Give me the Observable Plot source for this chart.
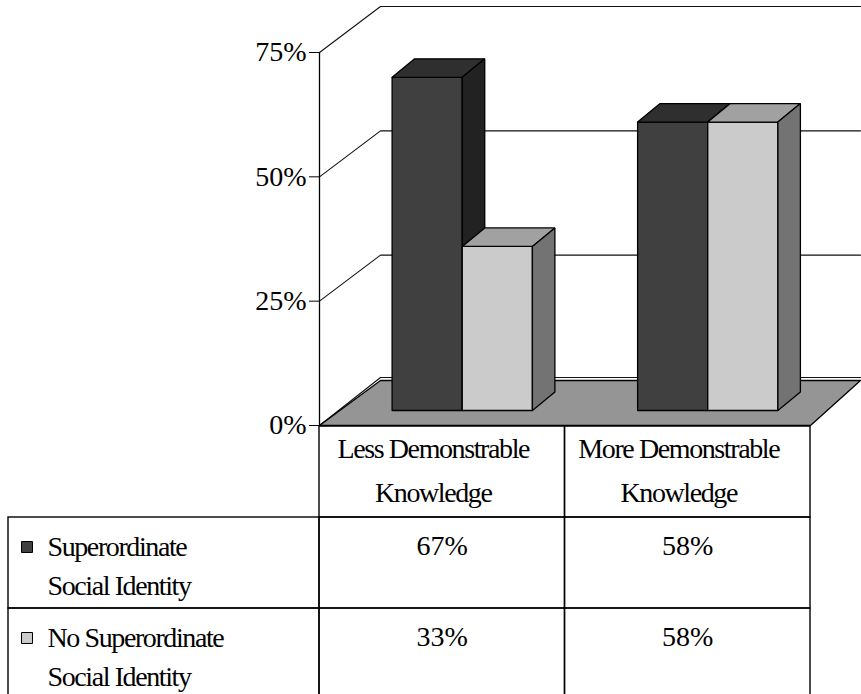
<!DOCTYPE html>
<html>
<head>
<meta charset="utf-8">
<script src="https://cdn.jsdelivr.net/npm/d3@7"></script>
<script src="https://cdn.jsdelivr.net/npm/@observablehq/plot@0.6"></script>
<style>
  html, body { margin: 0; padding: 0; background: #ffffff; }
  #wrap { position: relative; width: 861px; height: 694px; overflow: hidden; }
  #wrap svg { display: block; }
  #wrap svg, #wrap svg text { font-family: "Liberation Serif", "Times New Roman", "DejaVu Serif", serif !important; }
</style>
</head>
<body>
<div id="wrap"></div>
<script>
// ---------------- data ----------------
const categories = ["Less Demonstrable Knowledge", "More Demonstrable Knowledge"];
const categoryLines = [["Less Demonstrable", "Knowledge"], ["More Demonstrable", "Knowledge"]];
const seriesNames = ["Superordinate Social Identity", "No Superordinate Social Identity"];
const seriesLines = [["Superordinate", "Social Identity"], ["No Superordinate", "Social Identity"]];
const superordinate = [0.67, 0.58];
const noSuperordinate = [0.33, 0.58];
const yTicks = [0, 0.25, 0.5, 0.75];
const tableValues = ["67%", "58%", "33%", "58%"]; // row-major, as printed in the data table

// ---------------- styles / layout ----------------
const FONT = "'Liberation Serif', 'Times New Roman', 'DejaVu Serif', serif";
const faceColors = [
  {front: "#404040", top: "#2f2f2f", side: "#222222"},
  {front: "#cbcbcb", top: "#a1a1a1", side: "#737373"}
];
const floorColor = "#959595";
const W = 861;
const ML = 319, MR = 51, MT = 52, CH = 426, MB = 1;
const XDOM = [0, categories.length];
const YDOM = [0, 0.75];
const pxX = (W - MR - ML) / (XDOM[1] - XDOM[0]);
const pxY = (CH - MB - MT) / (YDOM[1] - YDOM[0]);
// depth of the floor / walls in pixels (slight perspective: shorter at the right)
const wallDX = xu => 61 - 5.5 * xu;
const WALL_DY = 46, FLOOR_DY = 45, WALL_BASE_DY = 48;
const BAR_PLANE = {dx: 20, dy: 15};
const BAR_DEPTH = {dx: 22.5, dy: 18.5};
const GAP = 1.5; // gap width 150%
const BAR_W = 1 / (2 + GAP);

const off = (xu, v, dxPx, dyPx) => ({x: xu + dxPx / pxX, y: v + dyPx / pxY});

// walls: gridlines on left wall + back wall
const gridPts = [];
yTicks.forEach(t => {
  const dy = t === 0 ? WALL_BASE_DY : WALL_DY;
  gridPts.push({...off(XDOM[0], t, 0, 0), t});
  gridPts.push({...off(XDOM[0], t, wallDX(XDOM[0]), dy), t});
  gridPts.push({...off(XDOM[1], t, wallDX(XDOM[1]), dy), t});
});

// floor
const floorPts = [
  off(XDOM[0], 0, 0, 0),
  off(XDOM[1], 0, 0, 0),
  off(XDOM[1], 0, wallDX(XDOM[1]), FLOOR_DY),
  off(XDOM[0], 0, wallDX(XDOM[0]), FLOOR_DY),
  off(XDOM[0], 0, 0, 0)
];

// bars -> faces
const seriesValues = [superordinate, noSuperordinate];
const faces = {front: [[], []], top: [[], []], side: [[], []]};
categories.forEach((c, i) => {
  seriesValues.forEach((vals, s) => {
    const v = vals[i];
    const x1 = i + (GAP / 2) * BAR_W + s * BAR_W, x2 = x1 + BAR_W;
    const P = (xu, vv, k) => off(xu, vv, BAR_PLANE.dx + k * BAR_DEPTH.dx, BAR_PLANE.dy + k * BAR_DEPTH.dy);
    const id = c + "|" + seriesNames[s];
    const add = (name, pts) => pts.forEach(p => faces[name][s].push({...p, id}));
    add("front", [P(x1, 0, 0), P(x2, 0, 0), P(x2, v, 0), P(x1, v, 0), P(x1, 0, 0)]);
    add("top", [P(x1, v, 0), P(x2, v, 0), P(x2, v, 1), P(x1, v, 1), P(x1, v, 0)]);
    add("side", [P(x2, 0, 0), P(x2, v, 0), P(x2, v, 1), P(x2, 0, 1), P(x2, 0, 0)]);
  });
});

const barMarks = [];
[0, 1].forEach(s => {
  ["front", "top", "side"].forEach(f => {
    barMarks.push(Plot.line(faces[f][s], {
      x: "x", y: "y", z: "id",
      fill: faceColors[s][f], stroke: "#000", strokeWidth: 1.3,
      strokeLinejoin: "miter", curve: "linear"
    }));
  });
});

const chart = Plot.plot({
  width: W, height: CH,
  marginLeft: ML, marginRight: MR, marginTop: MT, marginBottom: MB,
  x: {domain: XDOM, axis: null},
  y: {domain: YDOM, ticks: yTicks, tickFormat: d3.format(".0%"), tickSize: 10, tickPadding: 3, label: null},
  style: {fontFamily: FONT, fontSize: "28px", color: "#000", background: "transparent", overflow: "visible", position: "relative", zIndex: 1},
  marks: [
    Plot.line(gridPts, {x: "x", y: "y", z: "t", stroke: "#111", strokeWidth: 1.1, curve: "linear"}),
    Plot.line(floorPts, {x: "x", y: "y", fill: floorColor, stroke: "#000", strokeWidth: 1.3, curve: "linear"}),
    Plot.ruleX([XDOM[0]], {y1: YDOM[0], y2: YDOM[1], stroke: "#000", strokeWidth: 1.3}),
    ...barMarks
  ]
});

// ---------------- data table ----------------
const rowKeys = ["header", ...seriesNames];
const leftEdge = XDOM[0] + (8 - ML) / pxX;
const cells = [];
categories.forEach((c, i) => cells.push({row: "header", x1: i, x2: i + 1}));
seriesNames.forEach(r => {
  cells.push({row: r, x1: leftEdge, x2: XDOM[0]});
  categories.forEach((c, i) => cells.push({row: r, x1: i, x2: i + 1}));
});
const headerText = categories.map((c, i) => ({row: "header", x: i + 0.5, l1: categoryLines[i][0], l2: categoryLines[i][1]}));
const rowText = seriesNames.map((r, s) => ({row: r, l1: seriesLines[s][0], l2: seriesLines[s][1], s}));
const valueText = [];
seriesNames.forEach((r, s) => categories.forEach((c, i) => valueText.push({row: r, x: i + 0.5, t: tableValues[s * categories.length + i]})));

const table = Plot.plot({
  width: W, height: 694 - CH,
  marginLeft: 0, marginRight: 0, marginTop: 0, marginBottom: 0,
  x: {domain: XDOM, range: [ML, W - MR], axis: null},
  y: {type: "band", domain: rowKeys, range: [0, 273], padding: 0, axis: null},
  style: {fontFamily: FONT, fontSize: "28px", color: "#000", background: "transparent"},
  marks: [
    Plot.barX(cells, {x1: "x1", x2: "x2", y: "row", fill: "none", stroke: "#000", strokeWidth: 1.4}),
    Plot.text(headerText, {x: "x", y: "row", text: "l1", dy: -22.5, dx: -9, fill: "#000"}),
    Plot.text(headerText, {x: "x", y: "row", text: "l2", dy: 21.5, dx: -9, fill: "#000"}),
    Plot.dot(rowText, {y: "row", frameAnchor: "left", dx: 26.5, dy: -16, symbol: "square", r: 6.2,
      fill: d => faceColors[d.s].front, stroke: "#000", strokeWidth: 1}),
    Plot.text(rowText, {y: "row", frameAnchor: "left", dx: 47, dy: -16, text: "l1", textAnchor: "start", fill: "#000"}),
    Plot.text(rowText, {y: "row", frameAnchor: "left", dx: 47, dy: 23.5, text: "l2", textAnchor: "start", fill: "#000"}),
    Plot.text(valueText, {x: "x", y: "row", text: "t", dy: -17, fill: "#000"})
  ]
});

// condensed word labels (as in the original data table)
d3.select(table).selectAll("text")
  .filter(function() { return !/%$/.test(this.textContent); })
  .style("letter-spacing", "-1.4px");

const wrap = document.getElementById("wrap");
wrap.appendChild(chart);
wrap.appendChild(table);
</script>
</body>
</html>
